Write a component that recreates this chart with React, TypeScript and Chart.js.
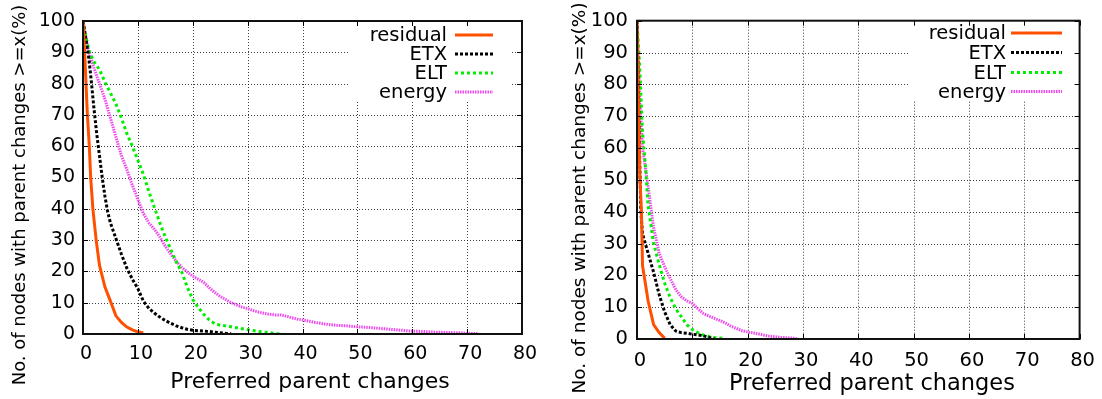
import React, { useEffect, useRef } from "react";
import { Chart, registerables } from "chart.js";
Chart.register(...registerables);

const FONT = "'DejaVu Sans', 'Liberation Sans', sans-serif";

// ---- shared axis setup ----
const xTickValues = [0, 10, 20, 30, 40, 50, 60, 70, 80];
const yTickValues = [0, 10, 20, 30, 40, 50, 60, 70, 80, 90, 100];
const seriesNames = ["residual", "ETX", "ELT", "energy"];
const xTitle = "Preferred parent changes";
const yTitle = "No. of nodes with parent changes >=x(%)";

// ---- left chart data ----
const leftResidualX = [0, 0.3, 0.55, 0.8, 1.15, 1.4, 1.8, 2.4, 3, 4, 5, 6, 7, 8, 9, 10, 11];
const leftResidualY = [100, 90, 80, 70, 60, 50, 40, 30, 22, 15, 10.5, 5.8, 3.7, 2.2, 1.3, 0.7, 0.3];

const leftEtxX = [0, 1, 1.5, 2, 2.5, 3, 3.5, 4, 4.5, 5, 6, 7, 8, 9, 10, 11, 12, 13, 14, 15, 16, 17, 18, 19, 20, 21, 22, 23, 24, 25, 26, 27];
const leftEtxY = [100, 89, 81, 72, 64, 57, 50, 44, 39, 35.5, 30.5, 25.5, 21, 17.5, 14.5, 10.5, 8.2, 6.7, 5.4, 4.3, 3.4, 2.6, 2, 1.5, 1.2, 1.05, 0.95, 0.8, 0.6, 0.4, 0.2, 0];

const leftEltX = [0, 0.5, 1.2, 2, 3, 4, 5, 6, 7, 8, 9, 10, 11, 12, 13, 14, 15, 16, 17, 18, 19, 20, 21, 22, 23, 24, 25, 26, 27, 28, 29, 30, 31, 32, 33, 34, 35, 36];
const leftEltY = [100, 95, 90, 87, 84.5, 80.5, 77, 73.5, 69, 64, 60, 55.5, 51, 45.5, 40.5, 35.5, 31, 27, 23, 19.8, 15, 11, 8.5, 6.3, 4.5, 3.3, 2.8, 2.6, 2.3, 2, 1.7, 1.4, 1.1, 0.8, 0.6, 0.4, 0.2, 0];

const leftEnergyX = [0, 1, 2, 3, 4, 5, 6, 7, 8, 9, 10, 11, 12, 13, 14, 15, 16, 17, 18, 19, 20, 21, 22, 23, 24, 25, 26, 27, 28, 29, 30, 31, 32, 33, 34, 35, 36, 37, 38, 39, 40, 42, 44, 46, 48, 50, 52, 54, 56, 58, 60, 62, 64, 66, 68, 70, 72];
const leftEnergyY = [100, 90.5, 85, 80, 75, 69, 63, 57, 52.5, 47.5, 43, 38.5, 35.5, 33.5, 31, 28, 25.5, 23.3, 21.3, 19.8, 18.5, 17.5, 16.5, 14.8, 13.3, 12, 11, 10, 9.3, 8.6, 8.1, 7.5, 7, 6.6, 6.3, 6.1, 6.1, 5.7, 5.2, 4.8, 4.5, 3.8, 3.2, 2.8, 2.6, 2.3, 2.1, 1.8, 1.5, 1.2, 0.9, 0.8, 0.6, 0.5, 0.4, 0.25, 0.1];

// ---- right chart data ----
const rightResidualX = [0, 0.3, 0.5, 0.8, 1, 1.7, 2, 3, 4, 5];
const rightResidualY = [100, 70, 52, 40, 23, 15.4, 12, 4.5, 2, 0.2];

const rightEtxX = [0, 0.3, 0.5, 0.7, 1, 2, 3, 4, 5, 6, 7, 8, 9, 10, 11, 12, 13, 14];
const rightEtxY = [100, 75, 55, 40, 33, 27, 21, 14, 8.5, 4.5, 2.5, 2, 1.8, 1.5, 1.3, 1, 0.5, 0];

const rightEltX = [0, 0.5, 1, 1.5, 2, 3, 4, 5, 6, 7, 8, 9, 10, 11, 12, 13, 14, 15, 16];
const rightEltY = [100, 85, 65, 55, 42, 30, 23.5, 17.5, 13, 9.5, 7, 4.5, 3, 2, 1.2, 0.8, 0.5, 0.3, 0.1];

const rightEnergyX = [0, 0.5, 1, 2, 3, 4, 5, 6, 7, 8, 9, 10, 11, 12, 13, 14, 15, 16, 17, 18, 19, 20, 21, 22, 23, 24, 25, 26, 27, 28, 29];
const rightEnergyY = [100, 75, 60, 48, 35, 27, 22.7, 19, 15.5, 13.3, 12, 11.2, 9.5, 8, 7.2, 6.5, 5.8, 5, 4, 3.3, 2.6, 2.2, 1.9, 1.6, 1.2, 0.9, 0.7, 0.5, 0.4, 0.3, 0.1];

// ---- styles ----
const seriesColors = ["#ff5000", "#000000", "#00ee00", "#f048f0"];
const seriesDash = [[], [3, 2], [3, 3], [1.5, 1]];
const seriesWidth = [3, 3, 3, 3];

type Cfg = {
  left: number;
  w: number;
  h: number;
  area: { left: number; top: number; right: number; bottom: number };
  xs: number[][];
  ys: number[][];
  legend: { textRight: number; lineStart: number; lineEnd: number; rows: number[]; box: number[]; font: number };
  yTitlePos: { x: number; y: number; size: number };
  xTitlePos: { x: number; y: number; size: number };
  tickFont: number;
  xPad: number;
  yPad: number;
};

const leftCfg: Cfg = {
  left: 0,
  w: 551,
  h: 399,
  area: { left: 83, top: 21, right: 522, bottom: 334 },
  xs: [leftResidualX, leftEtxX, leftEltX, leftEnergyX],
  ys: [leftResidualY, leftEtxY, leftEltY, leftEnergyY],
  legend: { textRight: 447, lineStart: 455, lineEnd: 493, rows: [35, 54, 73, 92], box: [348, 22, 163, 79], font: 19.5 },
  yTitlePos: { x: 25, y: 195, size: 18 },
  xTitlePos: { x: 310, y: 388, size: 22 },
  tickFont: 19,
  xPad: 9,
  yPad: 8,
};

const rightCfg: Cfg = {
  left: 551,
  w: 551,
  h: 399,
  area: { left: 86, top: 20, right: 535, bottom: 339 },
  xs: [rightResidualX, rightEtxX, rightEltX, rightEnergyX],
  ys: [rightResidualY, rightEtxY, rightEltY, rightEnergyY],
  legend: { textRight: 455, lineStart: 460, lineEnd: 511, rows: [33, 52.5, 72.5, 91.5], box: [357, 21, 166, 80], font: 19.5 },
  yTitlePos: { x: 34, y: 198, size: 18.5 },
  xTitlePos: { x: 321, y: 390, size: 22.5 },
  tickFont: 19.5,
  xPad: 10,
  yPad: 9,
};

const decoPlugin = {
  id: "gnuDeco",
  beforeDatasetsDraw(chart: any, _args: any, opts: any) {
    const { ctx, chartArea: ca, scales } = chart;
    const xs = scales.x;
    const ys = scales.y;
    ctx.save();
    ctx.strokeStyle = "rgba(0,0,0,0.75)";
    ctx.lineWidth = 1;
    ctx.setLineDash([1, 2]);
    xTickValues.slice(1, -1).forEach((v) => {
      const px = Math.round(xs.getPixelForValue(v)) + 0.5;
      ctx.beginPath();
      ctx.moveTo(px, ca.top);
      ctx.lineTo(px, ca.bottom);
      ctx.stroke();
    });
    yTickValues.slice(1, -1).forEach((v) => {
      const py = Math.round(ys.getPixelForValue(v)) + 0.5;
      ctx.beginPath();
      ctx.moveTo(ca.left, py);
      ctx.lineTo(ca.right, py);
      ctx.stroke();
    });
    ctx.setLineDash([]);
    const b = opts.legend.box;
    ctx.fillStyle = "#ffffff";
    ctx.fillRect(b[0], b[1], b[2], b[3]);
    ctx.restore();
  },
  afterDatasetsDraw(chart: any, _args: any, opts: any) {
    const { ctx, chartArea: ca, scales } = chart;
    const xs = scales.x;
    const ys = scales.y;
    ctx.save();
    ctx.strokeStyle = "#000";
    ctx.lineWidth = 1;
    const tl = 5;
    xTickValues.forEach((v) => {
      const px = Math.round(xs.getPixelForValue(v)) + 0.5;
      ctx.beginPath();
      ctx.moveTo(px, ca.bottom);
      ctx.lineTo(px, ca.bottom - tl);
      ctx.moveTo(px, ca.top);
      ctx.lineTo(px, ca.top + tl);
      ctx.stroke();
    });
    yTickValues.forEach((v) => {
      const py = Math.round(ys.getPixelForValue(v)) + 0.5;
      ctx.beginPath();
      ctx.moveTo(ca.left, py);
      ctx.lineTo(ca.left + tl, py);
      ctx.moveTo(ca.right, py);
      ctx.lineTo(ca.right - tl, py);
      ctx.stroke();
    });
    ctx.lineWidth = 2;
    ctx.strokeStyle = "#111";
    ctx.strokeRect(ca.left, ca.top, ca.right - ca.left, ca.bottom - ca.top);
    const lg = opts.legend;
    ctx.font = `${lg.font}px ${FONT}`;
    ctx.textAlign = "right";
    ctx.textBaseline = "middle";
    chart.data.datasets.forEach((ds: any, i: number) => {
      const yy = lg.rows[i];
      ctx.fillStyle = "#000";
      ctx.fillText(ds.label, lg.textRight, yy + 1);
      ctx.strokeStyle = ds.borderColor;
      ctx.lineWidth = ds.borderWidth;
      ctx.setLineDash(ds.borderDash || []);
      ctx.beginPath();
      ctx.moveTo(lg.lineStart, yy);
      ctx.lineTo(lg.lineEnd, yy);
      ctx.stroke();
    });
    ctx.setLineDash([]);
    ctx.restore();
  },
  afterDraw(chart: any, _args: any, opts: any) {
    const { ctx } = chart;
    ctx.save();
    ctx.fillStyle = "#000";
    const yt = opts.yTitlePos;
    ctx.font = `${yt.size}px ${FONT}`;
    ctx.translate(yt.x, yt.y);
    ctx.rotate(-Math.PI / 2);
    ctx.textAlign = "center";
    ctx.textBaseline = "alphabetic";
    ctx.fillText(yTitle, 0, 0);
    ctx.restore();
    ctx.save();
    ctx.fillStyle = "#000";
    const xt = opts.xTitlePos;
    ctx.font = `${xt.size}px ${FONT}`;
    ctx.textAlign = "center";
    ctx.textBaseline = "alphabetic";
    ctx.fillText(xTitle, xt.x, xt.y);
    ctx.restore();
  },
};

function GnuChart({ cfg }: { cfg: Cfg }) {
  const ref = useRef<HTMLCanvasElement>(null);
  useEffect(() => {
    const canvas = ref.current!;
    const datasets = seriesNames.map((name, i) => ({
      label: name,
      data: cfg.xs[i].map((x, j) => ({ x, y: cfg.ys[i][j] })),
      borderColor: seriesColors[i],
      backgroundColor: seriesColors[i],
      borderWidth: seriesWidth[i],
      borderDash: seriesDash[i],
      borderCapStyle: "butt",
      pointRadius: 0,
      tension: 0,
      fill: false,
    }));
    const chart = new Chart(canvas, {
      type: "line",
      data: { datasets },
      options: {
        responsive: false,
        animation: false,
        devicePixelRatio: 1,
        layout: {
          padding: { left: 0, top: cfg.area.top, right: cfg.w - cfg.area.right, bottom: 0 },
        },
        plugins: {
          legend: { display: false },
          tooltip: { enabled: false },
          gnuDeco: { legend: cfg.legend, yTitlePos: cfg.yTitlePos, xTitlePos: cfg.xTitlePos },
        } as any,
        scales: {
          x: {
            type: "linear",
            min: 0,
            max: 80,
            afterBuildTicks: (s: any) => {
              s.ticks = xTickValues.map((v) => ({ value: v }));
            },
            afterFit: (s: any) => {
              s.height = cfg.h - cfg.area.bottom;
            },
            ticks: {
              font: { family: FONT, size: cfg.tickFont },
              color: "#000",
              padding: cfg.xPad,
              labelOffset: 3,
              maxRotation: 0,
              autoSkip: false,
            },
            grid: { display: false, drawTicks: false },
            border: { display: false },
          },
          y: {
            type: "linear",
            min: 0,
            max: 100,
            afterBuildTicks: (s: any) => {
              s.ticks = yTickValues.map((v) => ({ value: v }));
            },
            afterFit: (s: any) => {
              s.width = cfg.area.left;
            },
            ticks: {
              font: { family: FONT, size: cfg.tickFont },
              color: "#000",
              padding: cfg.yPad,
              autoSkip: false,
            },
            grid: { display: false, drawTicks: false },
            border: { display: false },
          },
        },
      } as any,
      plugins: [decoPlugin as any],
    });
    return () => chart.destroy();
  }, []);
  return (
    <canvas
      ref={ref}
      width={cfg.w}
      height={cfg.h}
      style={{ position: "absolute", left: cfg.left, top: 0, width: cfg.w, height: cfg.h }}
    />
  );
}

export default function App() {
  return (
    <div style={{ position: "absolute", left: 0, top: 0, width: 1102, height: 399, background: "#fff", overflow: "hidden" }}>
      <GnuChart cfg={leftCfg} />
      <GnuChart cfg={rightCfg} />
    </div>
  );
}
